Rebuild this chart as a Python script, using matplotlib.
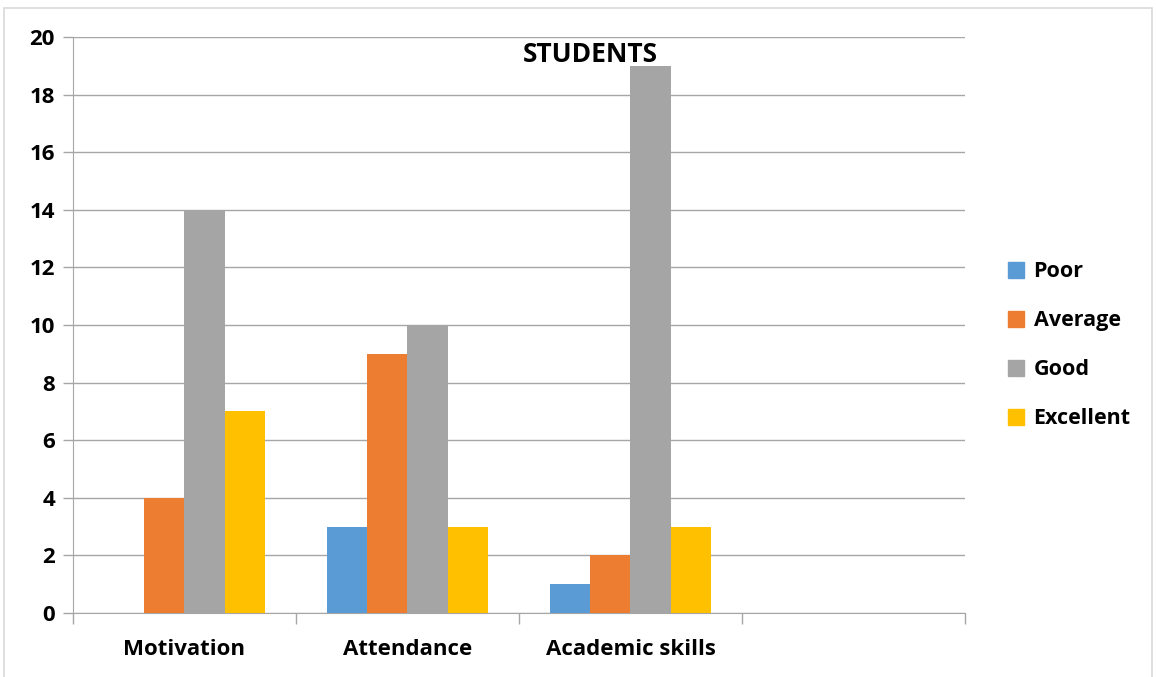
import matplotlib.pyplot as plt
import matplotlib.patches as mpatches
import numpy as np

plt.rcParams["font.family"] = ["Open Sans", "DejaVu Sans"]
plt.rcParams["font.weight"] = "bold"

categories = ["Motivation", "Attendance", "Academic skills", ""]
levels = ["Poor", "Average", "Good", "Excellent"]
poor = [0, 3, 1, 0]
average = [4, 9, 2, 0]
good = [14, 10, 19, 0]
excellent = [7, 3, 3, 0]
colors = ["#5b9bd5", "#ed7d31", "#a5a5a5", "#ffc000"]

series = [poor, average, good, excellent]

fig = plt.figure(figsize=(11.56, 6.77), dpi=100)
ax = fig.add_axes([0.0631, 0.0945, 0.7717, 0.8508])

# outer chart border
fig.patches.append(mpatches.Rectangle((0.0035, -0.01), 0.993, 0.998,
                                      transform=fig.transFigure, fill=False,
                                      edgecolor="#d9d9d9", linewidth=1.2))

x = np.arange(len(categories)) + 0.5
width = 0.18
for i, (vals, c) in enumerate(zip(series, colors)):
    ax.bar(x + (i - 1.5) * width, vals, width, color=c, zorder=3)

ax.set_xlim(0, 4)
ax.set_ylim(0, 20)
ax.set_yticks(np.arange(0, 21, 2))
ax.set_xticks(np.arange(0, 5))
ax.set_xticklabels([])
ax.set_xticks(x, minor=True)
ax.set_xticklabels(categories, minor=True, fontsize=16, fontweight="bold")
ax.tick_params(axis="x", which="minor", length=0, pad=19)
ax.tick_params(axis="x", which="major", length=8, color="#a6a6a6", width=1)
ax.tick_params(axis="y", length=7, color="#a6a6a6", width=1, labelsize=16, pad=6)
for lbl in ax.get_yticklabels():
    lbl.set_fontweight("bold")

ax.grid(axis="y", color="#a6a6a6", linewidth=1, zorder=0)
for side in ["top", "right"]:
    ax.spines[side].set_visible(False)
for side in ["left", "bottom"]:
    ax.spines[side].set_color("#a6a6a6")

fig.text(0.511, 0.920, "STUDENTS", ha="center", va="center",
         fontsize=19, fontweight="bold")

handles = [mpatches.Patch(color=c, label=l) for c, l in zip(colors, levels)]
fig.legend(handles=handles, loc="center left", bbox_to_anchor=(0.855, 0.49),
           frameon=False, handlelength=0.75, handleheight=0.75,
           handletextpad=0.45, labelspacing=1.3,
           prop={"weight": "bold", "size": 15.5})

fig.savefig("out.png", dpi=100)
